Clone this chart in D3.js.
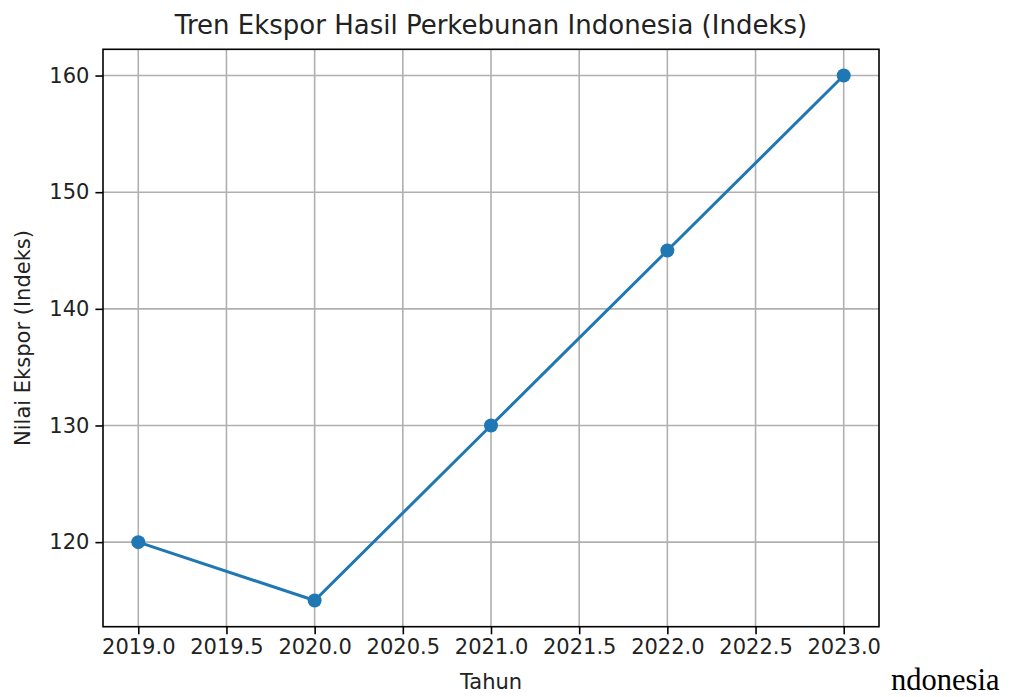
<!DOCTYPE html>
<html><head><meta charset="utf-8">
<script src="https://cdn.jsdelivr.net/npm/d3@7"></script>
<style>body{margin:0;background:#fff;} svg{display:block;}</style>
</head><body>
<svg id="c" width="1010" height="697"></svg>
<script>
const years = [2019, 2020, 2021, 2022, 2023];
const values = [120, 115, 130, 145, 160];
const xTicks = [2019.0, 2019.5, 2020.0, 2020.5, 2021.0, 2021.5, 2022.0, 2022.5, 2023.0];
const yTicks = [120, 130, 140, 150, 160];
const title = "Tren Ekspor Hasil Perkebunan Indonesia (Indeks)";
const xLabel = "Tahun";
const yLabel = "Nilai Ekspor (Indeks)";
const stray = "ndonesia";

const svg = d3.select("#c");
const L = 103, R = 879, T = 49.3, B = 626.7;
const font = "DejaVu Sans";

const xPad = (d3.max(years) - d3.min(years)) * 0.05;
const yPad = (d3.max(values) - d3.min(values)) * 0.05;
const x = d3.scaleLinear().domain([d3.min(years) - xPad, d3.max(years) + xPad]).range([L, R]);
const y = d3.scaleLinear().domain([d3.min(values) - yPad, d3.max(values) + yPad]).range([B, T]);

const grid = svg.append("g");
grid.selectAll("line.gx").data(xTicks).join("line")
  .attr("x1", d => x(d)).attr("x2", d => x(d)).attr("y1", T).attr("y2", B)
  .attr("stroke", "#b0b0b0").attr("stroke-width", 1.6);
grid.selectAll("line.gy").data(yTicks).join("line")
  .attr("y1", d => y(d)).attr("y2", d => y(d)).attr("x1", L).attr("x2", R)
  .attr("stroke", "#b0b0b0").attr("stroke-width", 1.6);

const xAxis = svg.append("g").attr("transform", `translate(0,${B})`)
  .call(d3.axisBottom(x).tickValues(xTicks).tickFormat(d3.format(".1f")).tickSize(7.6).tickPadding(5));
const yAxis = svg.append("g").attr("transform", `translate(${L},0)`)
  .call(d3.axisLeft(y).tickValues(yTicks).tickFormat(d3.format("d")).tickSize(7.6).tickPadding(6));
[xAxis, yAxis].forEach(a => {
  a.select(".domain").remove();
  a.selectAll(".tick line").attr("stroke", "#000").attr("stroke-width", 1.6);
  a.selectAll(".tick text").attr("fill", "#222").style("font-family", font).style("font-size", "21px");
});

svg.append("rect").attr("x", L).attr("y", T).attr("width", R - L).attr("height", B - T)
  .attr("fill", "none").attr("stroke", "#000").attr("stroke-width", 1.6);

const line = d3.line().x((d, i) => x(years[i])).y(d => y(d));
svg.append("path").datum(values).attr("d", line)
  .attr("fill", "none").attr("stroke", "#1f77b4").attr("stroke-width", 3);
svg.selectAll("circle.pt").data(values).join("circle")
  .attr("cx", (d, i) => x(years[i])).attr("cy", d => y(d)).attr("r", 7).attr("fill", "#1f77b4");

svg.append("text").attr("x", (L + R) / 2).attr("y", 33.5).attr("text-anchor", "middle")
  .style("font-family", font).style("font-size", "26px").attr("fill", "#222").text(title);
svg.append("text").attr("x", (L + R) / 2).attr("y", 689).attr("text-anchor", "middle")
  .style("font-family", font).style("font-size", "21px").attr("fill", "#222").text(xLabel);
svg.append("text").attr("transform", `translate(30,${(T + B) / 2}) rotate(-90)`).attr("text-anchor", "middle")
  .style("font-family", font).style("font-size", "21px").attr("fill", "#222").text(yLabel);
svg.append("text").attr("x", 891).attr("y", 690).style("font-family", "Liberation Serif")
  .style("font-size", "30.5px").attr("fill", "#000").text(stray);
</script>
</body></html>
